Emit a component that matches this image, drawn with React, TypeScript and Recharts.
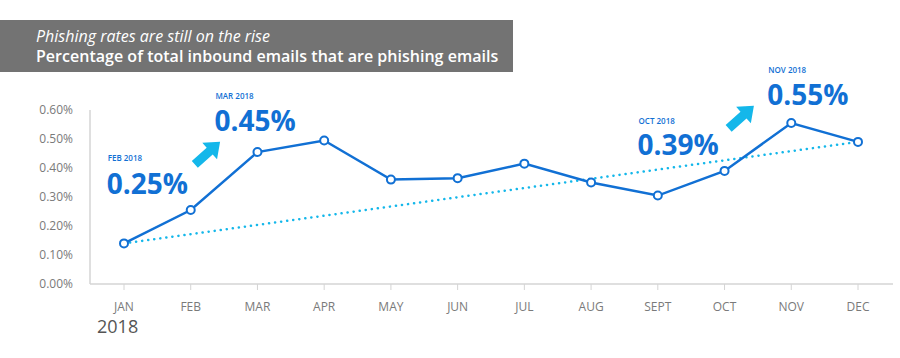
import React from 'react';
import { ComposedChart, Line, XAxis, YAxis, ReferenceDot } from 'recharts';

const months = ['JAN', 'FEB', 'MAR', 'APR', 'MAY', 'JUN', 'JUL', 'AUG', 'SEPT', 'OCT', 'NOV', 'DEC'];
const rates = [0.14, 0.255, 0.455, 0.495, 0.36, 0.365, 0.415, 0.35, 0.305, 0.39, 0.555, 0.49];
const yTicks = [0, 0.1, 0.2, 0.3, 0.4, 0.5, 0.6];
// trend line endpoints (JAN and DEC only)
const trendStart = 0.14;
const trendEnd = 0.49;

const annotations = [
  { month: 'FEB', value: 0.255, label: 'FEB 2018', big: '0.25%', arrow: false },
  { month: 'MAR', value: 0.455, label: 'MAR 2018', big: '0.45%', arrow: true },
  { month: 'OCT', value: 0.39, label: 'OCT 2018', big: '0.39%', arrow: false },
  { month: 'NOV', value: 0.555, label: 'NOV 2018', big: '0.55%', arrow: true },
];

const data = months.map((m, i) => ({
  month: m,
  rate: rates[i],
  trend: i === 0 ? trendStart : i === months.length - 1 ? trendEnd : null,
}));

const FONT = '"Open Sans", "Noto Sans", sans-serif';
const BLUE = '#1170d4';
const CYAN = '#14b7ea';

const offsets: Record<string, { lx: number; ly: number; bx: number; by: number; ax: number; ay: number }> = {
  FEB: { lx: -83, ly: -49, bx: -84, by: -16, ax: 0, ay: 0 },
  MAR: { lx: -42, ly: -53, bx: -43, by: -21, ax: -50, ay: 1 },
  OCT: { lx: -86, ly: -47, bx: -87, by: -16, ax: 0, ay: 0 },
  NOV: { lx: -23, ly: -50, bx: -24, by: -18, ax: -50, ay: -6 },
};

const Arrow = ({ cx, cy }: { cx: number; cy: number }) => {
  const pts = [
    [-17, -4.5], [3, -4.5], [3, -11], [17, 0], [3, 11], [3, 4.5], [-17, 4.5],
  ].map((p) => p.join(',')).join(' ');
  return <polygon points={pts} fill={CYAN} transform={`translate(${cx},${cy}) rotate(-42)`} />;
};

const makeShape = (a: typeof annotations[number]) => (props: any) => {
  const { cx, cy } = props;
  const o = offsets[a.month];
  return (
    <g>
      <text x={cx + o.lx} y={cy + o.ly} fill={BLUE} fontSize={8} fontWeight={600} fontFamily={FONT}>{a.label}</text>
      <text x={cx + o.bx} y={cy + o.by} fill={BLUE} fontSize={28} fontWeight={700} fontFamily={FONT}>{a.big}</text>
      {a.arrow && <Arrow cx={cx + o.ax} cy={cy + o.ay} />}
    </g>
  );
};

const Dot = (props: any) => {
  const { cx, cy } = props;
  if (cx == null || cy == null) return null;
  return <circle cx={cx} cy={cy} r={4} fill="#fff" stroke={BLUE} strokeWidth={2} />;
};

export default function App() {
  return (
    <div style={{ position: 'absolute', left: 0, top: 0, width: 900, height: 358, background: '#fff', fontFamily: FONT }}>
      <div style={{ position: 'absolute', left: 0, top: 20, width: 513, height: 52, background: '#737373' }} />
      <div style={{ position: 'absolute', left: 36, top: 25, color: '#fff', fontSize: 16, fontStyle: 'italic', fontFamily: FONT, fontWeight: 400, whiteSpace: 'nowrap' }}>
        Phishing rates are still on the rise
      </div>
      <div style={{ position: 'absolute', left: 36, top: 45, color: '#fff', fontSize: 16, fontWeight: 600, fontFamily: FONT, whiteSpace: 'nowrap', letterSpacing: 0.02 }}>
        Percentage of total inbound emails that are phishing emails
      </div>
      <div style={{ position: 'absolute', left: 97, top: 314, color: '#555', fontSize: 18, fontFamily: FONT }}>2018</div>
      <div style={{ position: 'absolute', left: 0, top: 0 }}>
        <ComposedChart width={900} height={358} data={data} margin={{ top: 110, right: 7, bottom: 44, left: 0 }}>
          <XAxis
            dataKey="month"
            padding={{ left: 34, right: 35 }}
            axisLine={{ stroke: '#d4d4d4', strokeWidth: 1.5 }}
            tickLine={{ stroke: '#d4d4d4' }}
            tickSize={6}
            tickMargin={12}
            height={30}
            tick={{ fill: '#7a7a7a', fontSize: 12, fontFamily: FONT }}
            interval={0}
          />
          <YAxis
            domain={[0, 0.6]}
            ticks={yTicks}
            width={90}
            axisLine={{ stroke: '#d4d4d4', strokeWidth: 1.5 }}
            tickLine={false}
            tickSize={0}
            tickMargin={17}
            tick={{ fill: '#7a7a7a', fontSize: 12, fontFamily: FONT }}
            tickFormatter={(v: number) => `${v.toFixed(2)}%`}
          />
          <Line
            type="linear"
            dataKey="trend"
            stroke={CYAN}
            strokeWidth={2.5}
            strokeDasharray="0.1 6"
            strokeLinecap="round"
            connectNulls
            dot={false}
            activeDot={false}
            isAnimationActive={false}
          />
          <Line
            type="linear"
            dataKey="rate"
            stroke={BLUE}
            strokeWidth={2.5}
            dot={<Dot />}
            activeDot={false}
            isAnimationActive={false}
          />
          {annotations.map((a) => (
            <ReferenceDot key={a.month} x={a.month} y={a.value} r={0} shape={makeShape(a)} />
          ))}
        </ComposedChart>
      </div>
    </div>
  );
}
